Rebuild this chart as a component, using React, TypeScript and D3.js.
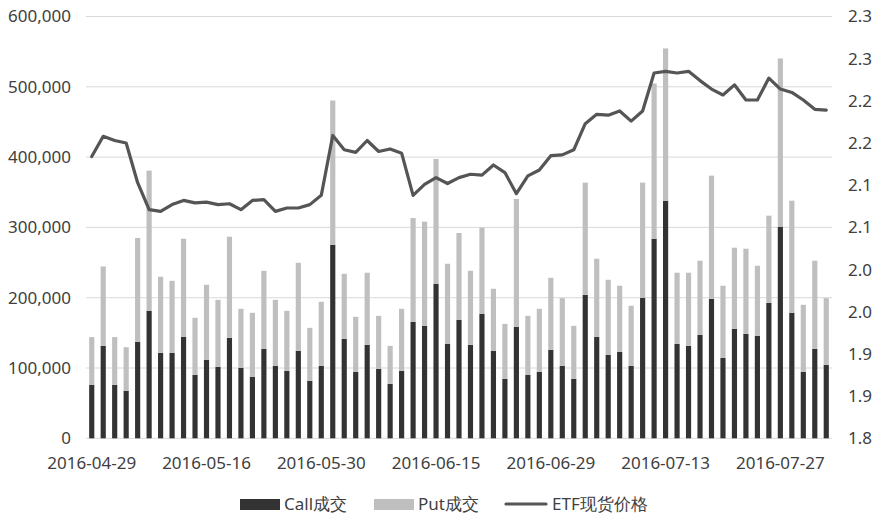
import React, { useEffect } from "react";
import * as d3 from "d3";

const dates = [
  "2016-04-29","2016-05-03","2016-05-04","2016-05-05","2016-05-06","2016-05-09","2016-05-10","2016-05-11","2016-05-12","2016-05-13",
  "2016-05-16","2016-05-17","2016-05-18","2016-05-19","2016-05-20","2016-05-23","2016-05-24","2016-05-25","2016-05-26","2016-05-27",
  "2016-05-30","2016-05-31","2016-06-01","2016-06-02","2016-06-03","2016-06-06","2016-06-07","2016-06-08","2016-06-13","2016-06-14",
  "2016-06-15","2016-06-16","2016-06-17","2016-06-20","2016-06-21","2016-06-22","2016-06-23","2016-06-24","2016-06-27","2016-06-28",
  "2016-06-29","2016-06-30","2016-07-01","2016-07-04","2016-07-05","2016-07-06","2016-07-07","2016-07-08","2016-07-11","2016-07-12",
  "2016-07-13","2016-07-14","2016-07-15","2016-07-18","2016-07-19","2016-07-20","2016-07-21","2016-07-22","2016-07-25","2016-07-26",
  "2016-07-27","2016-07-28","2016-07-29","2016-08-01","2016-08-02"
];

const callVol = [
  75900,131500,76000,67400,137200,181300,121500,121500,144300,90200,
  111500,101600,142900,100100,87300,127200,103000,95900,124400,81600,
  103000,275400,141500,94400,132900,98700,77400,95900,165700,160000,
  219800,134300,168500,132900,177100,124400,84500,158500,90200,94400,
  125800,103000,84500,204100,144300,118700,122900,103000,199900,283900,
  338000,134300,131500,147200,198400,114400,155700,148600,145700,192700,
  301000,178500,94400,127200,104400
];

const totalVol = [
  143900,244400,144000,129600,285000,380800,229800,224000,283900,171400,
  218400,197000,286800,184200,178500,238300,197000,181300,249700,157100,
  194200,480500,234000,172800,235500,174200,131500,184200,313400,308100,
  397400,248300,292000,238300,299600,212700,162800,340500,174200,184200,
  228300,199400,160000,363700,255400,225500,217000,188500,363700,504700,
  554600,235500,235500,252600,373600,217000,271100,269700,245400,316700,
  540300,338000,189900,252600,199400
];

const putVol = totalVol.map((t, i) => t - callVol[i]);

const etfPrice = [
  2.134,2.158,2.153,2.150,2.103,2.071,2.069,2.077,2.082,2.079,
  2.080,2.077,2.078,2.071,2.082,2.083,2.069,2.073,2.073,2.077,
  2.088,2.159,2.142,2.139,2.153,2.140,2.143,2.138,2.088,2.101,
  2.109,2.102,2.109,2.113,2.112,2.124,2.115,2.090,2.111,2.118,
  2.135,2.136,2.142,2.173,2.184,2.183,2.188,2.176,2.188,2.233,
  2.235,2.233,2.235,2.224,2.214,2.207,2.219,2.201,2.201,2.227,
  2.214,2.210,2.201,2.190,2.189
];

const leftTicks = [0, 100000, 200000, 300000, 400000, 500000, 600000];
const rightTicks = [1.8, 1.85, 1.9, 1.95, 2.0, 2.05, 2.1, 2.15, 2.2, 2.25, 2.3];
const rightTickLabels = ["1.8","1.9","1.9","2.0","2.0","2.1","2.1","2.2","2.2","2.3","2.3"];
const xTickDates = ["2016-04-29","2016-05-16","2016-05-30","2016-06-15","2016-06-29","2016-07-13","2016-07-27"];
const legendLabels = ["Call成交", "Put成交", "ETF现货价格"];

const W = 884, H = 519;
const M = { left: 86, right: 832, top: 16.5, bottom: 438.3 };
const FONT = "'Noto Sans', sans-serif";
const TXT = "#404040";
const CALL_C = "#333333";
const PUT_C = "#bfbfbf";
const LINE_C = "#555555";
const GRID_C = "#d9d9d9";

export default function App() {
  useEffect(() => {
    document.body.style.margin = "0";
  }, []);

  const x = d3.scaleBand<string>().domain(dates).range([M.left, M.right]).paddingInner(0.55).paddingOuter(0.275);
  const yL = d3.scaleLinear().domain([0, 600000]).range([M.bottom, M.top]);
  const yR = d3.scaleLinear().domain([1.8, 2.3]).range([M.bottom, M.top]);
  const fmt = d3.format(",");

  const cx = (d: string) => (x(d) as number) + x.bandwidth() / 2;
  const line = d3.line<number>().x((_, i) => cx(dates[i])).y((v) => yR(v));

  return (
    <svg width={W} height={H} style={{ display: "block", background: "#fff" }} fontFamily={FONT}>
      {leftTicks.map((t) => (
        <line key={"g" + t} x1={M.left} x2={M.right} y1={yL(t)} y2={yL(t)} stroke={GRID_C} strokeWidth={1} />
      ))}
      {leftTicks.map((t) => (
        <text key={"l" + t} x={71} y={yL(t)} dy="0.35em" textAnchor="end" fontSize={17} fill={TXT}>
          {fmt(t)}
        </text>
      ))}
      {rightTicks.map((t, i) => (
        <text key={"r" + i} x={848} y={yR(t)} dy="0.35em" textAnchor="start" fontSize={17} fill={TXT}>
          {rightTickLabels[i]}
        </text>
      ))}
      {dates.map((d, i) => (
        <g key={"b" + d}>
          <rect x={x(d)} width={x.bandwidth()} y={yL(callVol[i])} height={yL(0) - yL(callVol[i])} fill={CALL_C} />
          <rect x={x(d)} width={x.bandwidth()} y={yL(callVol[i] + putVol[i])} height={yL(callVol[i]) - yL(callVol[i] + putVol[i])} fill={PUT_C} />
        </g>
      ))}
      <path d={line(etfPrice) || ""} fill="none" stroke={LINE_C} strokeWidth={3.2} strokeLinejoin="round" strokeLinecap="round" />
      {xTickDates.map((d) => (
        <text key={"x" + d} x={cx(d)} y={463} dy="0.35em" textAnchor="middle" fontSize={17} fill={TXT}>
          {d}
        </text>
      ))}
      <g>
        <rect x={240} y={499} width={40} height={11} fill={CALL_C} />
        <text x={284} y={504} dy="0.35em" fontSize={17} fill={TXT}>{legendLabels[0]}</text>
        <rect x={374} y={499} width={40} height={11} fill={PUT_C} />
        <text x={418} y={504} dy="0.35em" fontSize={17} fill={TXT}>{legendLabels[1]}</text>
        <line x1={506} x2={546} y1={504} y2={504} stroke={LINE_C} strokeWidth={3.2} strokeLinecap="round" />
        <text x={552} y={504} dy="0.35em" fontSize={17} fill={TXT}>{legendLabels[2]}</text>
      </g>
    </svg>
  );
}
